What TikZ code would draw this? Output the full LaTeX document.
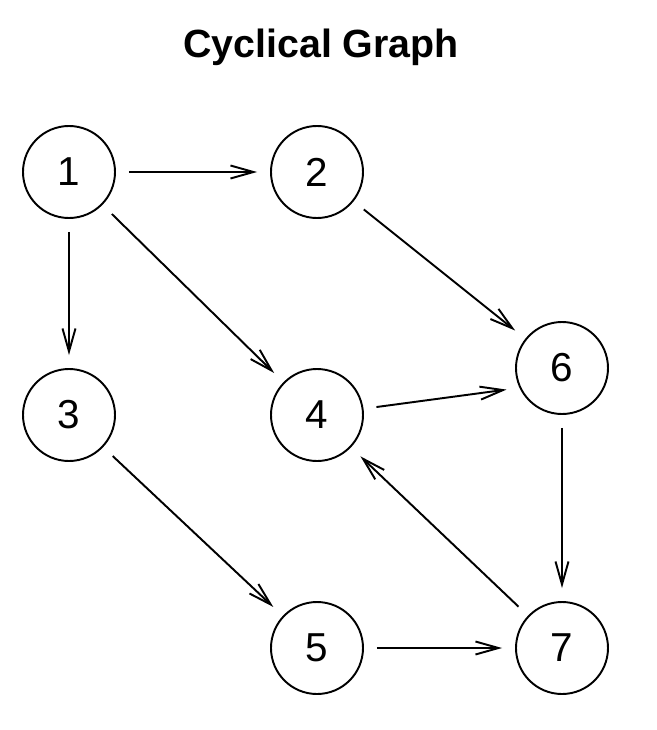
\documentclass[tikz,border=0pt]{standalone}
\usepackage{fontspec}
\setmainfont{Liberation Sans}
\usepackage{tikz}
\usetikzlibrary{positioning}
\usetikzlibrary{automata}
\usetikzlibrary{arrows.meta}

\begin{document}
\begin{tikzpicture}[on grid,auto,line width=1.1pt,>={Straight Barb[length=4.6mm,width=2.6mm,line width=1.1pt]}]
    % fondo y margenes
    \useasboundingbox (-1.38,3.44) rectangle (11.74,-11.16);
    \tikzstyle{every state}=[draw=black,line width=1.1pt,fill=none,minimum size=1.84cm,inner sep=0pt,font=\fontsize{23}{27}\selectfont]
    \node[state] (q_1) {1};
    \node[state] (q_2) [right=4.96cm of q_1] {2};
    \node[state] (q_3) [below=4.86cm of q_1] {3};
    \node[state] (q_4) [right=4.96cm of q_3] {4};
    \node[state] (q_5) [below=4.66cm of q_4] {5};
    \node[state] (q_7) [right=4.9cm of q_5] {7};
    \node[state] (q_6) [above=5.6cm of q_7] {6};
    \node (title) at (5.04,2.5) {\fontsize{22.4}{27}\selectfont\bfseries Cyclical Graph};

    \path[->,shorten >=0.26cm,shorten <=0.26cm]
    (q_1) edge (q_2)
    (q_1) edge (q_3)
    (q_1) edge (q_4)
    (q_2) edge (q_6)
    (q_4) edge (q_6.205)
    (q_3) edge (q_5)
    (q_6) edge (q_7)
    (q_5) edge (q_7)
    (q_7) edge (q_4);

\end{tikzpicture}
\end{document}
